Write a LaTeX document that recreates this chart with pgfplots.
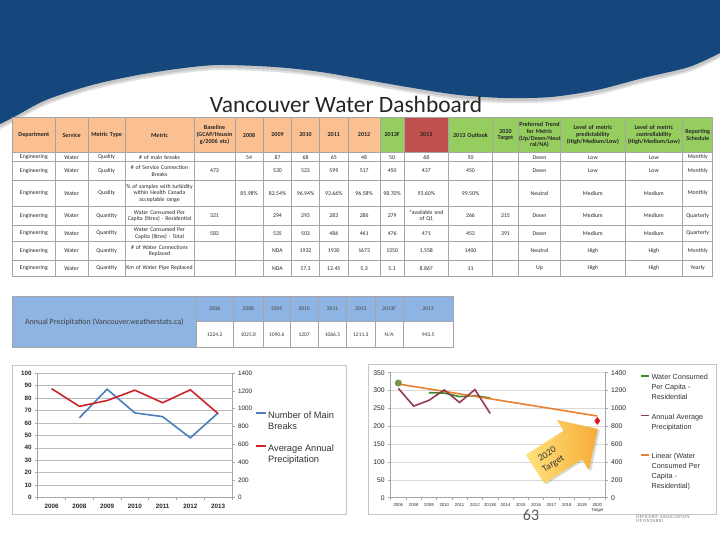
\documentclass[border=0pt]{standalone}
\usepackage{fontspec}
\setmainfont{Carlito}
\newfontfamily\arial{Liberation Sans}
\newfontfamily\seriff{Liberation Serif}
\usepackage{pgfplots}
\pgfplotsset{compat=1.18}

\definecolor{banner}{RGB}{21,71,125}
\definecolor{peach}{RGB}{250,192,146}
\definecolor{hgreen}{RGB}{150,205,95}
\definecolor{hred}{RGB}{192,80,77}
\definecolor{ptblue}{RGB}{141,180,226}
\definecolor{xlblue}{RGB}{74,126,187}
\definecolor{xlred}{RGB}{205,35,45}
\definecolor{wgreen}{RGB}{60,135,45}
\definecolor{maroon}{RGB}{145,60,80}
\definecolor{trend}{RGB}{232,128,48}
\definecolor{olivedot}{RGB}{120,148,80}
\definecolor{tgtred}{RGB}{225,25,30}
\definecolor{arrowA}{RGB}{255,226,125}
\definecolor{arrowB}{RGB}{246,172,55}
\definecolor{tline}{RGB}{165,165,165}

\def\colc{{33.85,71.65,106.65,159.5,214.5,249.15,277.5,305.5,333.8,364.15,392.15,426.3,470.5,505.5,539.5,592.85,653.85,697.7}}
\def\colw{{42.3,33.3,36.7,69,41,28.3,28.4,27.6,29,31.7,24.3,44,44.4,25.6,42.4,64.3,57.7,30}}
\newcommand\tabhead{\bfseries\fontsize{6.1}{6.9}\selectfont}
\newcommand\tabbody{\fontsize{5.8}{6.6}\selectfont}
\newcommand\trow[3]{%
  \foreach \t [count=\i] in {#3}{%
    \pgfmathsetmacro\cx{\colc[\i-1]}%
    \pgfmathsetmacro\cw{\colw[\i-1]-1.5}%
    \node[inner sep=0pt, text width=\cw bp, align=center, font=#2, text=black!85] at (\cx,#1) {\t};
  }}

\pgfplotsset{
  xl/.style={scale only axis, anchor=south west,
    axis line style={gray!70,line width=0.6bp},
    tick style={gray!70,line width=0.6bp},
    tick align=outside, major tick length=2.5bp,
    /pgf/number format/assume math mode=true,
    /pgf/number format/1000 sep={},
    tick label style={text=black!85}, clip=false},
}

\begin{document}
\begin{tikzpicture}
\useasboundingbox (0,0) rectangle (720bp,540bp);
\fill[white] (0,0) rectangle (720bp,540bp);
\begin{scope}[x=1bp,y=-1bp,yshift=540bp]
  % banner
  \fill[gray!25] (0,0) -- (720,0) -- (720,58) -- plot[smooth] coordinates {(720,58) (689,72) (643,83) (597,95) (551,102) (505,103) (459,100) (413,93) (367,85) (321,77) (275,72) (220,70) (184,73) (138,80) (92,90) (46,105) (14,122) (0,129)} -- cycle;
  \fill[gray!45] (0,0) -- (720,0) -- (720,56) -- plot[smooth] coordinates {(720,56) (689,70) (643,81) (597,93) (551,100) (505,101) (459,98) (413,91) (367,83) (321,75) (275,70) (220,68) (184,71) (138,78) (92,88) (46,103) (14,120) (0,127)} -- cycle;
  \fill[banner] (0,0) -- (720,0) -- (720,53) -- plot[smooth] coordinates {(720,53) (689,67) (643,78) (597,90) (551,97) (505,98) (459,95) (413,88) (367,80) (321,72) (275,67) (220,65) (184,68) (138,75) (92,85) (46,100) (14,117) (0,124)} -- cycle;
  \node[font=\fontsize{23.5}{26}\selectfont, text=black!85] at (346,104) {Vancouver Water Dashboard};

  % main table
  \fill[peach] (12.7,117.3) rectangle (380,152.7);
  \fill[hgreen] (380,117.3) rectangle (404.3,152.7);
  \fill[hred] (404.3,117.3) rectangle (448.3,152.7);
  \fill[hgreen] (448.3,117.3) rectangle (712.7,152.7);
  \foreach \x in {12.7,55,88.3,125,194,235,263.3,291.7,319.3,348.3,380,404.3,448.3,492.7,518.3,560.7,625,682.7,712.7}
    {\draw[tline, line width=0.5bp] (\x,117.3) -- (\x,276.7);}
  \foreach \y in {117.3,152.7,161.7,180,206.7,225,241.7,260,276.7}
    {\draw[tline, line width=0.5bp] (12.7,\y) -- (712.7,\y);}
  \trow{135}{\tabhead}{Department,Service,Metric Type,Metric,{Baseline\\(GCAP/Housin\\g/2006 etc)},2008,2009,2010,2011,2012,2013F,2013,2013 Outlook,{2020\\Target},{Preferred Trend\\for Metric\\(Up/Down/Neut\\ral/NA)},{Level of metric\\predictability\\(High/Medium/Low)},{Level of metric\\controllability\\(High/Medium/Low)},{Reporting\\Schedule}}
  \trow{157.2}{\tabbody}{Engineering,Water,Quality,\# of main breaks,{},54,87,68,65,48,50,68,50,{},Down,Low,Low,Monthly}
  \trow{170.85}{\tabbody}{Engineering,Water,Quality,{\# of Service Connection\\Breaks},473,{},530,523,599,517,450,437,450,{},Down,Low,Low,Monthly}
  \trow{193.35}{\tabbody}{Engineering,Water,Quality,{\% of samples with turbidity\\within Health Canada\\acceptable range},{},85.98\%,82.54\%,96.94\%,93.66\%,96.58\%,98.70\%,93.60\%,99.50\%,{},Neutral,Medium,Medium,Monthly}
  \trow{215.85}{\tabbody}{Engineering,Water,Quantity,{Water Consumed Per\\Capita (litres) - Residential},321,{},294,293,283,286,279,{*available end\\of Q1},266,215,Down,Medium,Medium,Quarterly}
  \trow{233.35}{\tabbody}{Engineering,Water,Quantity,{Water Consumed Per\\Capita (litres) - Total},583,{},535,503,486,461,476,471,453,391,Down,Medium,Medium,Quarterly}
  \trow{250.85}{\tabbody}{Engineering,Water,Quantity,{\# of Water Connections\\Replaced},{},{},NDA,1932,1930,1673,1350,{1,558},1400,{},Neutral,High,High,Monthly}
  \trow{268.35}{\tabbody}{Engineering,Water,Quantity,Km of Water Pipe Replaced,{},{},NDA,17.3,12.45,5.3,5.1,8.867,11,{},Up,High,High,Yearly}

  % precipitation table
  \fill[ptblue] (12.7,296) rectangle (196,347.3);
  \fill[ptblue] (196,296) rectangle (453,321.7);
  \draw[tline, line width=0.5bp] (12.7,296) rectangle (453,347.3);
  \draw[tline, line width=0.5bp] (196,321.7) -- (453,321.7);
  \foreach \x in {196,233.3,263.3,290,318.3,346.7,375,403.3}
    {\draw[tline, line width=0.5bp] (\x,296) -- (\x,347.3);}
  \node[font=\fontsize{8}{9}\selectfont, text=black!75] at (104.35,322) {Annual Precipitation (Vancouver.weatherstats.ca)};
  \foreach \x/\yr/\v in {214.65/2006/1224.2, 248.3/2008/1025.8, 276.65/2009/1090.6, 304.15/2010/1207, 332.5/2011/1066.5, 360.85/2012/1211.3, 389.15/2013F/N\slash A, 428.15/2013/943.5}{
    \node[font=\fontsize{5.5}{6}\selectfont, text=black!75] at (\x,308.85) {\yr};
    \node[font=\fontsize{5.5}{6}\selectfont, text=black!80] at (\x,334.5) {\v};
  }

  % chart frames
  \draw[gray!45, line width=0.6bp] (12,365) rectangle (346,514);
  \draw[gray!45, line width=0.6bp] (368,364) rectangle (716,514);

  % page number and logo text
  \node[font=\fontsize{16}{18}\selectfont, text=black!65] at (531,515) {63};
  \node[font=\seriff\fontsize{4.6}{4.6}\selectfont, text=black!55, align=left, anchor=north west, inner sep=0pt] at (636,515) {OFFICERS' ASSOCIATION\\OF ONTARIO};
\end{scope}

% ---------- left chart ----------
\begin{axis}[xl, at={(37.7bp,42.3bp)}, width=194.3bp, height=124.7bp,
  xmin=-0.5, xmax=6.5, ymin=0, ymax=100,
  xtick={-0.5,0.5,...,6.5}, x tick label as interval,
  xticklabels={2006,2008,2009,2010,2011,2012,2013},
  ytick={0,10,...,100},
  axis x line*=bottom, axis y line*=left,
  ymajorgrids, grid style={gray!55,line width=0.6bp},
  tick label style={font=\arial\bfseries\fontsize{6.3}{7}\selectfont},
]
\addplot[xlblue, line width=1.6bp] coordinates {(1,64) (2,87) (3,68) (4,65) (5,48) (6,68)};
\end{axis}
\begin{axis}[xl, at={(37.7bp,42.3bp)}, width=194.3bp, height=124.7bp,
  xmin=-0.5, xmax=6.5, ymin=0, ymax=1400,
  ytick={0,200,...,1400},
  axis y line*=right, axis x line=none,
  tick label style={font=\arial\fontsize{6.4}{7}\selectfont},
  legend image code/.code={\draw[#1, line width=1.6bp] (0bp,3.1bp) -- (10bp,3.1bp);},
  legend cell align=left,
  legend style={at={(axis description cs:1.1184,0.6977)}, anchor=north west, draw=none, fill=none,
    inner sep=0pt, outer sep=0pt, row sep=0pt, column sep=1.5bp,
    font=\arial\fontsize{9.3}{11}\selectfont,
    nodes={inner sep=0pt, text height=7.5bp, text depth=3.5bp, text=black!80}},
]
\addlegendimage{xlblue}\addlegendentry{Number of Main}
\addlegendimage{empty legend}\addlegendentry{Breaks}
\addlegendimage{empty legend}\addlegendentry{\mbox{}}
\addplot[xlred, line width=1.6bp] coordinates {(0,1224.2) (1,1025.8) (2,1090.6) (3,1207) (4,1066.5) (5,1211.3) (6,943.5)};
\addlegendentry{Average Annual}
\addlegendimage{empty legend}\addlegendentry{Precipitation}
\end{axis}

% ---------- right chart ----------
\begin{axis}[xl, at={(390.7bp,42.3bp)}, width=214.3bp, height=125bp,
  xmin=-0.5, xmax=13.5, ymin=0, ymax=350,
  xtick={-0.5,0.5,...,13.5}, x tick label as interval,
  xticklabels={2006,2008,2009,2010,2011,2012,2013E,2014,2015,2016,2017,2018,2019,{2020\\Target}},
  xticklabel style={font=\arial\fontsize{4.3}{5}\selectfont, align=center},
  yticklabel style={font=\arial\fontsize{6.8}{7}\selectfont},
  ytick={0,50,...,350},
  axis x line*=bottom, axis y line*=left,
  ymajorgrids, grid style={gray!30,line width=0.6bp},
]
\addplot[wgreen, line width=1.6bp] coordinates {(2,294) (3,293) (4,283) (5,286) (6,279)};
\addplot[trend, line width=1.6bp] coordinates {(0,318.3) (13,228.7)};
\addplot[only marks, mark=*, mark size=3.3bp, color=olivedot] coordinates {(0,321)};
\addplot[only marks, mark=diamond*, mark size=3.6bp, color=tgtred] coordinates {(13,215)};
\end{axis}
\begin{axis}[xl, at={(390.7bp,42.3bp)}, width=214.3bp, height=125bp,
  xmin=-0.5, xmax=13.5, ymin=0, ymax=1400,
  ytick={0,200,...,1400},
  axis y line*=right, axis x line=none,
  yticklabel style={font=\arial\fontsize{6.8}{7}\selectfont},
  legend image code/.code={\draw[#1, line width=1.6bp] (0bp,2.6bp) -- (8bp,2.6bp);},
  legend cell align=left,
  legend style={at={(axis description cs:1.1633,0.9944)}, anchor=north west, draw=none, fill=none,
    inner sep=0pt, outer sep=0pt, row sep=0pt, column sep=2bp,
    font=\arial\fontsize{7.3}{9}\selectfont,
    nodes={inner sep=0pt, text height=6.4bp, text depth=3.5bp, text=black!80}},
]
\addlegendimage{wgreen}\addlegendentry{Water Consumed}
\addlegendimage{empty legend}\addlegendentry{Per Capita -}
\addlegendimage{empty legend}\addlegendentry{Residential}
\addlegendimage{empty legend}\addlegendentry{\mbox{}}
\addplot[maroon, line width=1.6bp] coordinates {(0,1224.2) (1,1025.8) (2,1090.6) (3,1207) (4,1066.5) (5,1211.3) (6,943.5)};
\addlegendentry{Annual Average}
\addlegendimage{empty legend}\addlegendentry{Precipitation}
\addlegendimage{empty legend}\addlegendentry{\mbox{}}
\addlegendimage{empty legend}\addlegendentry{\mbox{}}
\addlegendimage{trend}\addlegendentry{Linear (Water}
\addlegendimage{empty legend}\addlegendentry{Consumed Per}
\addlegendimage{empty legend}\addlegendentry{Capita -}
\addlegendimage{empty legend}\addlegendentry{Residential)}
\end{axis}

% ---------- target arrow ----------
\begin{scope}[shift={(566.4bp,90.9bp)}, rotate=32.7, x=1bp, y=1bp]
  \fill[black, opacity=0.15] (-36,-19) -- (8.8,-19) -- (8.8,-32) -- (38.5,-2) -- (8.8,28) -- (8.8,15) -- (-36,15) -- cycle;
  \shade[left color=arrowA, right color=arrowB] (-37.25,-17) -- (7.55,-17) -- (7.55,-30) -- (37.25,0) -- (7.55,30) -- (7.55,17) -- (-37.25,17) -- cycle;
  \node[transform shape, align=center, font=\fontsize{9.5}{11.5}\selectfont, text=black!80] at (-19,0) {2020\\Target};
\end{scope}
\end{tikzpicture}
\end{document}
